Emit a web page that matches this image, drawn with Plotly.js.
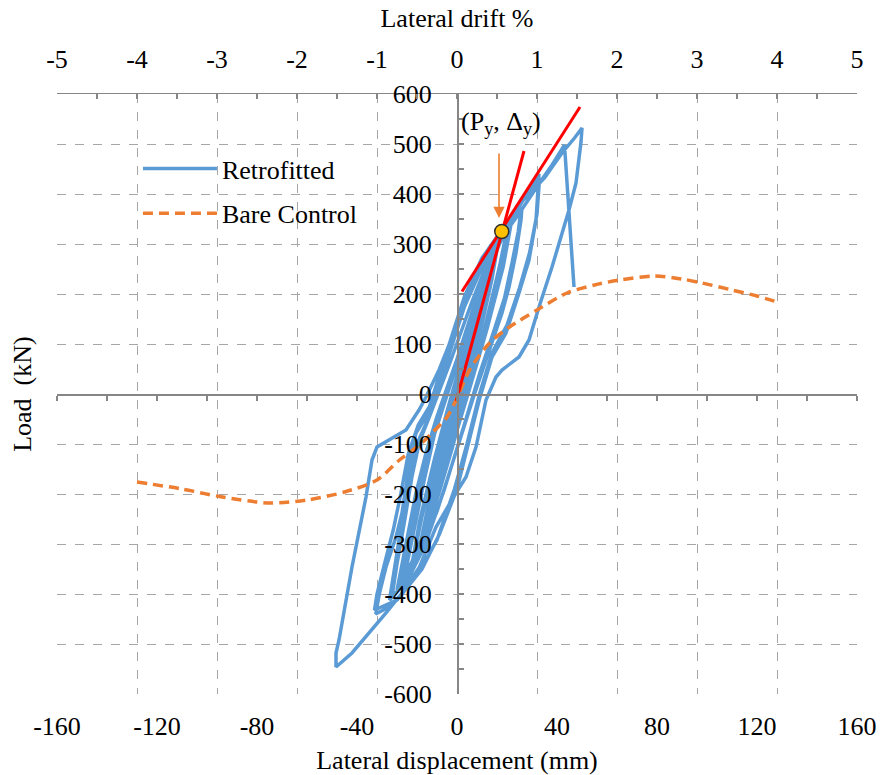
<!DOCTYPE html>
<html>
<head>
<meta charset="utf-8">
<script src="https://cdn.plot.ly/plotly-3.0.1.min.js"></script>
<style>html,body{margin:0;padding:0;background:#fff;}#chart{width:884px;height:775px;}</style>
</head>
<body>
<div id="chart"></div>
<script>
// ---- Data ----
// Retrofitted specimen: hysteresis (lateral displacement mm, load kN)
const retroX = [0,2,4,5.5,3.5,1,-2,-4,-5.5,-3.5,-1,
  2,5,8,6,2,-2,-6,-8.5,-6,-2,0,
  4,8,11.5,8.5,3,-1,-6,-10,-11.5,-8,-3,0,
  5,10,14.5,11,5,0,-6,-11,-14.5,-11,-5,-1,
  5,11,17.5,14,8,2,-5,-11,-17.5,-14,-8,-3,
  4,11,17,14,8,1,-6,-12,-18,-15,-9,-4,
  3,10,16,20.8,17,11,5,-2,-10,-16,-21,-18,-13,-9,-5,
  2,10,17,21,17.5,11,4,-4,-12,-18,-22.5,-19.5,-15,-11,-7,
  1,9,16,22,18.5,12,5,-3,-11,-18,-24,-21,-16.5,-12,-8,
  0,8,16,22,26,25.6,23.6,20.8,18,13,7,0,-8,-16,-22,-26,-24,-21,-18,-15,-11,
  -3,6,14,21,25.5,24.5,22,19,15,9,3,-5,-13,-20,-27,-25,-22,-19.5,-16.5,-12,
  -5,3,12,20,27,32.8,31.6,28.8,24.8,19.6,14,9,4,0,-7,-14,-22,-28,-32.5,-31,-28.4,-24.4,-22,-19,-16.4,-12.4,
  -6,2,10,18,26,33,32,29,25,20,14,9,4,-1,-8,-16,-24,-33,-32,-29,-25.5,-22.5,-19.5,-15.5,-11,
  -5,3,10,18,26,35,42,47,50,49.6,47.6,44.8,38,32.8,28.8,24.8,18,15.6,11.6,7.6,3.6,-0.4,-4.4,-8.4,-15,-22,-28.4,-35.2,-42,-48.4,
  -48.4,-47.2,-42,-36.4,-34,-32,-27.2,-20.4,-15.2,-12.4,-7.2,-3.2,1.6,8.8,16.8,25,33,38,43,46.8];
const retroY = [0,45,85,110,60,0,-55,-95,-115,-60,-5,
  60,120,175,115,25,-60,-140,-185,-120,-30,5,
  95,175,235,160,45,-40,-150,-230,-255,-170,-60,10,
  120,210,275,190,60,-40,-160,-250,-295,-210,-90,-5,
  125,230,335,240,100,-20,-150,-255,-330,-245,-120,-30,
  105,220,318,230,95,-30,-165,-270,-340,-255,-130,-35,
  90,215,300,348,255,130,20,-110,-245,-325,-365,-290,-170,-80,-20,
  90,215,300,340,245,120,0,-135,-265,-335,-375,-300,-190,-100,-40,
  80,205,295,350,255,130,10,-125,-255,-340,-392,-315,-200,-110,-45,
  70,195,295,345,374,348,282,214,162,90,0,-110,-235,-335,-385,-405,-340,-255,-165,-95,-45,
  60,185,285,342,365,325,262,192,130,40,-60,-190,-305,-375,-412,-350,-262,-175,-105,-55,
  50,175,275,335,392,440,348,268,202,122,74,-10,-110,-190,-280,-350,-400,-428,-440,-398,-346,-286,-238,-138,-78,-46,
  40,165,262,325,385,430,360,282,212,138,82,0,-100,-190,-292,-362,-412,-432,-400,-340,-272,-200,-120,-62,-25,
  70,195,272,330,385,432,482,512,532,504,422,368,254,174,108,74,48,34,-12,-106,-166,-198,-232,-266,-346,-398,-438,-478,-518,-546,
  -518,-492,-346,-206,-132,-106,-92,-72,-32,-6,48,98,168,254,305,362,422,458,498,214];

// Bare control specimen: envelope (mm, kN)
const bareX = [-128,-110,-95,-75,-60,-45,-32,-23,-15,-10,-4,0,5,13,21,32,44,55,65,79,90,98,110,120,128];
const bareY = [-176,-190,-205,-218,-212,-196,-172,-132,-102,-78,-46,-8,48,102,134,168,202,218,228,236,230,222,208,196,184];

// Idealised stiffness lines (mm, kN)
const initStiffX = [-0.3, 26.8];
const initStiffY = [-14, 486];
const postYieldX = [2, 49.2];
const postYieldY = [205, 574];

// Yield point (Py, Δy)
const yieldX = [17.9];
const yieldY = [325];

// Axis ticks
const dispTicks = [-160,-120,-80,-40,0,40,80,120,160];
const dispTickText = ['-160','-120','-80','-40','0','40','80','120','160'];
const driftTicks = [-5,-4,-3,-2,-1,0,1,2,3,4,5];
const driftTickText = ['-5','-4','-3','-2','-1','0','1','2','3','4','5'];
const loadTicks = [-600,-500,-400,-300,-200,-100,0,100,200,300,400,500,600];
const loadTickText = ['-600','-500','-400','-300','-200','-100','0','100','200','300','400','500','600'];

// ---- Styling ----
const FONT = 'Liberation Serif, Times New Roman, serif';
const AXC = '#868686';
const GRIDC = '#a6a6a6';

const traces = [
  {x: retroX, y: retroY, type: 'scatter', mode: 'lines', name: 'Retrofitted',
   line: {color: '#5b9bd5', width: 3.5}, legendgroup: 'a'},
  {x: bareX, y: bareY, type: 'scatter', mode: 'lines', name: 'Bare Control',
   line: {color: '#ed7d31', width: 3.5, dash: '10px,6px', shape: 'spline', smoothing: 0.8}, legendgroup: 'b'},
  {x: initStiffX, y: initStiffY, type: 'scatter', mode: 'lines', showlegend: false,
   line: {color: '#ff0000', width: 3}},
  {x: postYieldX, y: postYieldY, type: 'scatter', mode: 'lines', showlegend: false,
   line: {color: '#ff0000', width: 3}},
  {x: yieldX, y: yieldY, type: 'scatter', mode: 'markers', showlegend: false,
   marker: {color: '#ffc000', size: 14, line: {color: '#2e2e2e', width: 1.5}}},
  // helpers so the extra axes are drawn
  {x: [null], y: [null], xaxis: 'x2', yaxis: 'y', type: 'scatter', mode: 'lines', showlegend: false, hoverinfo: 'skip'},
  {x: [null], y: [null], xaxis: 'x3', yaxis: 'y', type: 'scatter', mode: 'lines', showlegend: false, hoverinfo: 'skip'}
];

const layout = {
  width: 884, height: 775,
  margin: {l: 57, r: 27, t: 94, b: 81, pad: 0},
  paper_bgcolor: '#ffffff', plot_bgcolor: '#ffffff',
  font: {family: FONT, size: 26, color: '#000'},
  showlegend: true,
  legend: {x: 0.1012, y: 0.915, xanchor: 'left', yanchor: 'top', bgcolor: 'rgba(255,255,255,0)',
           font: {family: FONT, size: 26, color: '#000'}, itemwidth: 74, tracegroupgap: 8},
  xaxis: {
    range: [-160, 160], tickmode: 'array', tickvals: dispTicks, ticktext: dispTickText,
    showgrid: false, zeroline: false, showline: false, ticks: '',
    tickfont: {family: FONT, size: 26, color: '#000'}, ticklabelstandoff: 14,
    title: {text: 'Lateral displacement (mm)', font: {family: FONT, size: 26, color: '#000'}, standoff: 13}
  },
  xaxis2: {
    overlaying: 'x', side: 'top', anchor: 'y', range: [-5, 5],
    tickmode: 'array', tickvals: driftTicks, ticktext: driftTickText,
    showgrid: true, gridcolor: GRIDC, griddash: 'dash', gridwidth: 1,
    zeroline: false, showline: true, linecolor: AXC, linewidth: 1.5,
    ticks: 'inside', ticklen: 5, tickcolor: AXC, tickwidth: 1.5,
    minor: {dtick: 0.5, tick0: 0, ticks: 'inside', ticklen: 5, tickcolor: AXC, tickwidth: 1.5, showgrid: false},
    tickfont: {family: FONT, size: 26, color: '#000'}, ticklabelstandoff: 14,
    title: {text: 'Lateral drift %', font: {family: FONT, size: 26, color: '#000'}, standoff: 10}
  },
  xaxis3: {
    overlaying: 'x', anchor: 'free', position: 0.5, side: 'bottom', range: [-160, 160],
    showgrid: false, zeroline: false, showline: true, linecolor: AXC, linewidth: 1.5,
    tickmode: 'linear', tick0: 0, dtick: 20, ticks: 'outside', ticklen: 5, tickcolor: AXC, tickwidth: 1.5,
    showticklabels: false
  },
  yaxis: {
    range: [-600, 600], anchor: 'free', position: 0.5, side: 'left',
    tickmode: 'array', tickvals: loadTicks, ticktext: loadTickText,
    showgrid: true, gridcolor: GRIDC, griddash: 'dash', gridwidth: 1,
    zeroline: false, showline: true, linecolor: AXC, linewidth: 1.5,
    ticks: 'inside', ticklen: 5, tickcolor: AXC, tickwidth: 1.5,
    minor: {dtick: 50, tick0: 0, ticks: 'inside', ticklen: 5, tickcolor: AXC, tickwidth: 1.5, showgrid: false},
    tickfont: {family: FONT, size: 26, color: '#000'}, ticklabelstandoff: 20
  },
  annotations: [
    {xref: 'paper', yref: 'paper', x: -0.044, y: 0.5, text: 'Load\u00a0 (kN)', textangle: -90,
     showarrow: false, xanchor: 'center', yanchor: 'middle', font: {family: FONT, size: 26, color: '#000'}},
    {xref: 'x', yref: 'y', x: 17.7, y: 542, text: '(P<sub>y</sub>, \u0394<sub>y</sub>)',
     showarrow: false, xanchor: 'center', yanchor: 'middle', font: {family: FONT, size: 26, color: '#000'}},
    {xref: 'x', yref: 'y', x: 16.8, y: 352, ax: 0, ay: -66, text: '', showarrow: true,
     arrowhead: 2, arrowsize: 1.4, arrowwidth: 1.6, arrowcolor: '#ed7d31'}
  ]
};

Plotly.newPlot('chart', traces, layout, {staticPlot: true, displayModeBar: false});
</script>
</body>
</html>
